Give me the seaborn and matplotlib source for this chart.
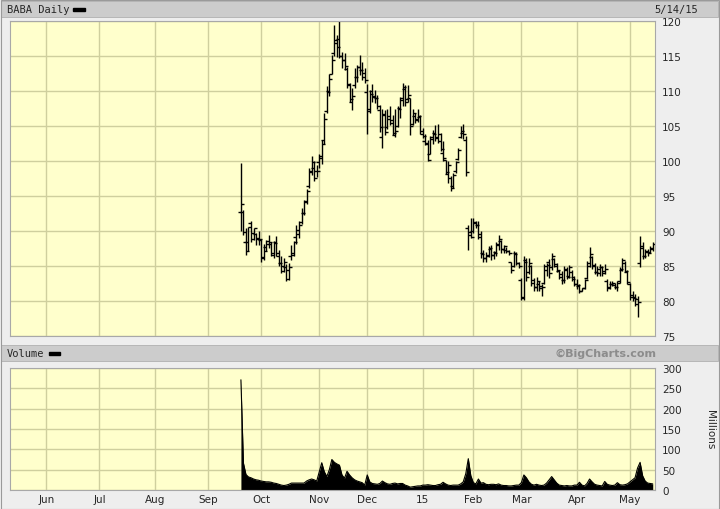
import numpy as np
import pandas as pd
import matplotlib
matplotlib.use('Agg')
import matplotlib.pyplot as plt
from matplotlib.patches import Rectangle
import seaborn as sns

# BABA daily, 9/19/14 - 5/14/15 (one row per month)
opens = [
    92.7, 92.7, 88.5, 88.5, 91.1, 89.7, 89.6, 89.0,
    88.7, 86.3, 87.7, 88.6, 88.2, 86.8, 88.5, 86.5, 85.5, 85.0, 84.8, 83.2, 86.5, 86.6, 89.2, 90.2, 91.3, 92.6, 94.3, 96.4, 98.6, 99.0, 98.6,
    99.8, 100.5, 103.0, 107.2, 110.0, 112.5, 115.5, 116.8, 117.5, 115.0, 114.5, 113.2, 111.0, 108.5, 110.8, 112.0, 113.5, 113.0, 112.0,
    109.8, 107.5, 110.0, 109.3, 109.0, 107.3, 103.5, 106.7, 104.9, 106.0, 105.9, 103.7, 105.0, 107.6, 109.0, 110.3, 108.9, 109.0, 105.3, 106.5, 106.0, 106.3,
    104.3, 102.8, 102.5, 101.0, 103.5, 104.0, 103.5, 103.8, 101.2, 100.2, 98.2, 97.6, 96.5, 98.6, 100.3, 103.5, 104.0, 103.0, 90.4, 89.5,
    90.0, 91.2, 90.8, 89.6, 86.9, 86.2, 86.5, 87.5, 86.6, 87.0, 88.0, 88.6, 87.4, 87.3, 87.1, 85.6, 85.0, 86.8, 85.4,
    83.0, 80.5, 85.8, 84.2, 85.0, 83.0, 82.0, 82.5, 82.2, 82.6, 84.5, 85.6, 84.8, 86.0, 85.3, 84.3, 83.9, 83.0, 84.4, 83.6, 84.2, 83.4,
    82.5, 82.2, 81.5, 81.9, 83.3, 85.0, 86.3, 85.2, 84.2, 84.0, 84.8, 84.3, 82.9, 82.0, 82.4, 82.3, 82.0, 82.8, 84.5, 85.5, 84.2,
    82.4, 80.8, 80.6, 80.3, 85.5, 87.9, 86.5, 87.0, 87.0, 87.5,
]
highs = [
    99.7, 92.95, 90.5, 90.6, 91.5, 90.5, 89.7, 90.0,
    88.9, 88.2, 88.7, 89.5, 88.4, 88.6, 89.3, 87.3, 86.5, 86.2, 85.3, 85.5, 88.0, 88.6, 90.9, 91.5, 93.3, 94.5, 96.0, 99.0, 100.7, 100.0, 99.4,
    101.0, 103.0, 106.9, 110.7, 112.4, 115.2, 119.5, 118.0, 120.0, 115.6, 115.4, 113.5, 111.1, 110.4, 113.3, 113.7, 115.2, 114.2, 113.3,
    111.0, 110.2, 111.0, 110.1, 109.5, 108.0, 107.5, 107.3, 107.5, 107.8, 106.6, 107.5, 107.8, 109.2, 111.1, 110.9, 110.9, 109.0, 107.5, 106.8, 107.5, 106.6,
    104.7, 103.8, 103.0, 103.6, 104.5, 105.2, 105.3, 104.0, 102.9, 100.2, 100.0, 97.8, 98.3, 100.0, 101.9, 105.0, 105.3, 103.6, 90.9, 91.9,
    91.9, 91.4, 91.4, 90.0, 87.3, 87.0, 87.8, 88.0, 87.2, 88.5, 89.5, 88.7, 88.0, 87.7, 87.3, 85.6, 87.1, 87.0, 85.6,
    83.3, 86.4, 86.2, 86.2, 85.2, 83.3, 83.5, 82.8, 82.4, 85.3, 85.5, 86.0, 86.9, 86.2, 85.5, 84.5, 84.3, 85.0, 84.8, 85.2, 84.5, 83.6,
    83.1, 82.4, 81.9, 83.1, 85.7, 87.7, 86.5, 85.5, 85.0, 85.3, 85.0, 85.3, 83.1, 82.9, 82.9, 82.6, 82.9, 84.8, 86.2, 85.7, 84.5,
    82.6, 81.4, 81.0, 80.7, 89.3, 88.4, 87.4, 87.4, 87.8, 88.4,
]
lows = [
    89.95, 89.5, 86.6, 87.2, 88.5, 88.7, 88.0, 88.0,
    85.6, 85.8, 87.1, 87.6, 86.4, 86.2, 86.5, 85.0, 84.0, 84.2, 82.8, 83.0, 85.9, 86.4, 88.2, 89.0, 91.0, 92.3, 93.9, 96.2, 98.0, 97.1, 97.7,
    99.0, 99.6, 102.5, 106.8, 109.3, 112.4, 115.0, 114.9, 114.7, 113.3, 113.0, 110.4, 108.4, 107.3, 110.4, 111.3, 112.3, 111.6, 111.1,
    103.8, 106.8, 108.5, 108.3, 107.5, 104.2, 101.8, 103.7, 104.6, 105.1, 103.7, 103.4, 104.9, 106.1, 107.8, 107.8, 108.5, 103.7, 105.2, 105.4, 105.6, 103.9,
    103.3, 102.3, 99.95, 101.0, 102.5, 102.8, 102.6, 101.4, 100.0, 98.1, 96.9, 95.7, 96.1, 98.3, 100.2, 103.3, 103.1, 97.8, 87.3, 89.0,
    89.7, 90.4, 88.8, 86.1, 85.6, 85.6, 86.3, 85.8, 86.0, 86.4, 87.3, 86.9, 86.9, 86.9, 86.6, 84.0, 84.9, 85.2, 84.7,
    80.1, 80.1, 82.9, 83.8, 82.1, 81.4, 81.4, 81.4, 80.7, 82.4, 83.6, 83.3, 84.5, 84.8, 84.1, 83.1, 82.4, 82.6, 83.1, 83.3, 82.9, 82.2,
    81.7, 81.2, 81.4, 81.7, 83.1, 84.8, 84.6, 83.8, 83.6, 83.6, 83.6, 83.8, 81.4, 81.7, 82.2, 81.7, 81.4, 82.6, 84.3, 84.1, 82.4,
    80.2, 80.0, 79.3, 77.75, 84.8, 86.0, 86.2, 86.5, 86.8, 87.2,
]
closes = [
    93.9, 89.9, 87.2, 90.6, 88.9, 90.5, 88.8, 88.9,
    86.1, 87.1, 88.1, 88.5, 86.6, 88.3, 86.9, 85.5, 84.3, 85.6, 84.4, 84.9, 86.8, 88.4, 89.6, 90.8, 92.6, 94.2, 95.7, 98.5, 99.9, 97.6, 98.6,
    100.7, 102.5, 106.0, 109.9, 111.7, 114.5, 117.3, 116.3, 115.0, 114.5, 113.6, 110.9, 108.9, 109.3, 112.0, 113.4, 113.0, 112.6, 111.6,
    107.1, 109.6, 109.2, 109.0, 107.9, 104.8, 106.6, 104.2, 106.4, 105.5, 104.0, 104.3, 107.4, 108.7, 110.6, 108.4, 109.5, 105.0, 106.9, 105.9, 106.5, 103.9,
    103.6, 102.6, 100.2, 103.2, 103.8, 103.3, 102.9, 101.7, 100.5, 98.5, 99.4, 96.1, 98.0, 99.8, 101.6, 104.3, 103.8, 98.45, 89.8, 89.1,
    91.3, 90.8, 89.1, 86.7, 86.2, 86.6, 87.6, 86.6, 86.8, 88.1, 88.9, 87.5, 87.8, 87.2, 86.9, 84.5, 86.7, 85.5, 85.0,
    80.6, 85.6, 83.4, 85.4, 82.6, 82.0, 82.9, 81.8, 82.0, 85.0, 85.2, 84.0, 86.4, 85.0, 84.5, 83.5, 83.0, 84.6, 83.4, 84.9, 83.2, 82.5,
    82.3, 81.5, 81.8, 83.0, 85.4, 86.7, 85.0, 84.1, 84.6, 84.8, 84.0, 84.6, 81.9, 82.5, 82.6, 82.0, 82.6, 84.6, 85.8, 84.3, 82.7,
    80.6, 80.4, 79.6, 79.9, 87.6, 86.4, 87.2, 86.8, 87.6, 88.2,
]
# volume, millions
volume = [
    271, 66, 38, 32, 30, 27, 25, 24,
    22, 21, 20, 20, 19, 17, 16, 14, 12, 11, 12, 14, 17, 17, 17, 17, 17, 17, 22, 25, 27, 25, 22,
    45, 67, 45, 33, 50, 75, 68, 64, 61, 37, 29, 46, 37, 30, 25, 22, 20, 18, 12,
    37, 20, 16, 15, 14, 16, 22, 18, 15, 14, 16, 17, 15, 16, 16, 12, 10, 7, 8, 9, 10, 10,
    12, 12, 13, 12, 11, 11, 13, 14, 19, 15, 12, 11, 12, 12, 12, 15, 20, 40, 77, 35,
    18, 15, 27, 17, 18, 14, 13, 14, 14, 13, 15, 12, 11, 11, 10, 10, 11, 12, 12,
    18, 37, 30, 20, 14, 12, 14, 12, 11, 12, 17, 25, 33, 25, 17, 12, 11, 10, 11, 10, 10, 12,
    12, 19, 12, 10, 16, 27, 20, 14, 12, 11, 10, 21, 14, 12, 11, 12, 18, 13, 12, 13, 15,
    20, 25, 30, 54, 68, 35, 22, 17, 16, 15,
]
month_names = ['Jun', 'Jul', 'Aug', 'Sep', 'Oct', 'Nov', 'Dec', '15', 'Feb', 'Mar', 'Apr', 'May']
price_ticks = [75, 80, 85, 90, 95, 100, 105, 110, 115, 120]
vol_ticks = [0, 50, 100, 150, 200, 250, 300]

# trading-day calendar (chart x axis skips non-trading days)
holidays = pd.to_datetime(['2014-05-26', '2014-07-04', '2014-09-01', '2014-11-27', '2014-12-25',
                           '2015-01-01', '2015-01-19', '2015-02-16', '2015-04-03'])
days = pd.bdate_range('2014-05-12', '2015-05-14')
days = days[~days.isin(holidays)]
pos = pd.Series(np.arange(len(days)), index=days)
trade = days[days >= '2014-09-19']
assert len(trade) == len(closes) == len(volume)
df = pd.DataFrame({'x': pos[trade].values, 'open': opens, 'high': highs,
                   'low': lows, 'close': closes, 'volume': volume})

firsts = days.to_series().groupby([days.year, days.month]).first().values[1:]
month_pos = pos[firsts].values

sns.set_theme(style='white')
plt.rcParams['font.family'] = ['DejaVu Sans']

W, H = 720, 510
fig = plt.figure(figsize=(7.2, 5.1), dpi=100)
fig.patch.set_facecolor('#EEEEEE')

def px(x0, y0, w, h):
    return [x0 / W, 1 - (y0 + h) / H, w / W, h / H]

# header bands
for y0 in (2, 346):
    r = Rectangle((1 / W, 1 - (y0 + 16) / H), 717 / W, 16 / H, transform=fig.transFigure,
                  facecolor='#CCCCCC', edgecolor='#B0B0B0', lw=0.6)
    fig.patches.append(r)
fig.patches.append(Rectangle((0.5 / W, 0.5 / H), 718.5 / W, 508.5 / H, transform=fig.transFigure,
                             fill=False, edgecolor='#9A9A9A', lw=0.8))

mono = 'DejaVu Sans Mono'
fig.text(7 / W, 1 - 10 / H, 'BABA Daily', family=mono, size=7.5, va='center')
fig.patches.append(Rectangle((73 / W, 1 - 11.5 / H), 12 / W, 3 / H, transform=fig.transFigure, color='black'))
fig.text(698 / W, 1 - 10 / H, '5/14/15', family=mono, size=7.5, va='center', ha='right')
fig.text(7 / W, 1 - 354 / H, 'Volume', family=mono, size=7.5, va='center')
fig.patches.append(Rectangle((49 / W, 1 - 355.5 / H), 11 / W, 3 / H, transform=fig.transFigure, color='black'))
fig.text(657 / W, 1 - 354 / H, '\u00a9BigCharts.com', size=8, weight='bold', color='#8C8C8C',
         va='center', ha='right')

grid_c = '#CFCF9E'
bg = '#FFFFCC'
xlim = (-0.4, df['x'].iloc[-1] + 0.9)

# price panel
ax = fig.add_axes(px(10, 22, 645, 315))
ax.set_facecolor(bg)
ax.vlines(df['x'], df['low'], df['high'], color='black', lw=1.0)
ax.plot(df['x'], df['open'], ls='none', marker=0, ms=2.2, mew=1.0, color='black')
ax.plot(df['x'], df['close'], ls='none', marker=1, ms=2.2, mew=1.0, color='black')
ax.set_xlim(*xlim)
ax.set_ylim(75, 120)
ax.set_yticks(price_ticks)
ax.set_xticks(month_pos)
ax.grid(True, color=grid_c, lw=1.0)
ax.set_axisbelow(True)
ax.yaxis.tick_right()
ax.tick_params(axis='y', length=0, pad=5, labelsize=7.5)
ax.tick_params(axis='x', length=0, labelbottom=False)
for s in ax.spines.values():
    s.set_color('#A8A8A8')
    s.set_linewidth(0.8)

# volume panel
axv = fig.add_axes(px(10, 369, 645, 122))
axv.set_facecolor(bg)
axv.fill_between(df['x'], df['volume'], 0, color='black', lw=0)
sns.lineplot(data=df, x='x', y='volume', ax=axv, color='black', lw=0.8)
axv.set_xlim(*xlim)
axv.set_ylim(0, 300)
axv.set_yticks(vol_ticks)
axv.set_xticks(month_pos)
axv.set_xticklabels(month_names)
axv.set_xlabel('')
axv.set_ylabel('')
axv.grid(True, color=grid_c, lw=1.0)
axv.set_axisbelow(True)
axv.yaxis.tick_right()
axv.tick_params(axis='y', length=0, pad=5, labelsize=7.5)
axv.tick_params(axis='x', length=0, pad=3, labelsize=7.5)
for s in axv.spines.values():
    s.set_color('#A8A8A8')
    s.set_linewidth(0.8)
fig.text(710 / W, 1 - 430 / H, 'Millions', rotation=270, size=7.5, va='center', ha='center')

fig.savefig('out.png', dpi=100, facecolor=fig.get_facecolor())
